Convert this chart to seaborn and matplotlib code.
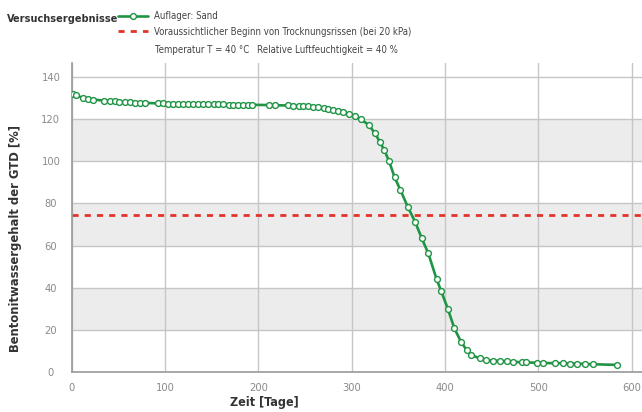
import pandas as pd
import matplotlib
matplotlib.use('Agg')
import matplotlib.pyplot as plt
import seaborn as sns
from matplotlib import font_manager
from matplotlib.lines import Line2D
from matplotlib.legend_handler import HandlerLine2D

tage = [1, 5, 12, 17, 23, 35, 41, 46, 51, 57, 62, 68, 73, 79,
        92, 98, 103, 109, 114, 119, 125, 130, 135, 141, 146, 152, 157, 162,
        168, 173, 178, 184, 189, 193, 211, 218, 232, 237, 243, 248, 253, 259,
        264, 270, 275, 280, 285, 291, 297, 303, 310, 318, 325, 330, 335, 340,
        346, 352, 360, 368, 375, 382, 391, 396, 403, 410, 417, 423, 428, 437,
        444, 451, 459, 466, 473, 482, 487, 498, 505, 518, 526, 534, 541, 550,
        559, 584]
gehalt = [131.8, 131.2, 129.9, 129.4, 129.2, 128.7, 128.5, 128.3, 128.1, 128.0,
          127.9, 127.8, 127.7, 127.6, 127.4, 127.4, 127.3, 127.3, 127.2, 127.2,
          127.1, 127.1, 127.0, 127.0, 127.0, 126.9, 126.9, 126.9, 126.8, 126.8,
          126.8, 126.8, 126.7, 126.7, 126.6, 126.5, 126.4, 126.3, 126.2, 126.1,
          126.0, 125.8, 125.5, 125.1, 124.7, 124.2, 123.8, 123.2, 122.5, 121.6,
          119.8, 117.2, 113.2, 109.2, 105.2, 100.0, 92.3, 86.5, 78.4, 71.2,
          63.5, 56.4, 44.0, 38.3, 30.0, 20.8, 14.5, 10.6, 8.2, 6.6,
          5.8, 5.5, 5.4, 5.2, 5.0, 4.7, 4.7, 4.5, 4.4, 4.3,
          4.3, 4.1, 4.1, 3.9, 3.8, 3.5]
grenzwert = 74.5

x_ticks = [0, 100, 200, 300, 400, 500, 600]
y_ticks = [0, 20, 40, 60, 80, 100, 120, 140]
graue_baender = [(20, 40), (60, 80), (100, 120)]

gruen = '#1f9444'
rot = '#e2332a'

sns.set_style('white')

# schmale Schrift suchen, sonst kleiner schreiben
schmal = None
for f in font_manager.fontManager.ttflist:
    st = str(f.stretch)
    if 'Narrow' in f.name or 'Condensed' in f.name or 'condensed' in st:
        schmal = f
        break
if schmal is not None:
    plt.rcParams['font.family'] = [schmal.name, 'DejaVu Sans']
    plt.rcParams['font.stretch'] = schmal.stretch
    k = 1.0
else:
    plt.rcParams['font.family'] = ['DejaVu Sans']
    k = 0.9


class RechterMarker(HandlerLine2D):
    # Marker nur am rechten Ende der Legendenlinie
    def get_xdata(self, legend, xdescent, ydescent, width, height, fontsize):
        xdata = [-xdescent, -xdescent + width]
        return xdata, [-xdescent + width - 0.15 * fontsize]


df = pd.DataFrame({'Tage': tage, 'Gehalt': gehalt})

fig = plt.figure(figsize=(6.42, 4.12), dpi=100)
ax = fig.add_axes([0.1117, 0.0964, 0.8883, 0.7506])

for unten, oben in graue_baender:
    ax.axhspan(unten, oben, color='#ececec', zorder=0, lw=0)

sns.lineplot(data=df, x='Tage', y='Gehalt', ax=ax, color=gruen, lw=1.9,
             marker='o', markersize=4.2, markerfacecolor='white',
             markeredgecolor=gruen, markeredgewidth=1.0,
             estimator=None, sort=False, legend=False, zorder=3)
ax.axhline(grenzwert, color=rot, lw=2.0, dashes=(2.2, 2.2), zorder=2)

ax.set_xlim(0, 611)
ax.set_ylim(0, 146.5)
ax.set_xticks(x_ticks)
ax.set_yticks(y_ticks)
ax.grid(True, color='#c6c6c6', lw=1.0, zorder=1)
ax.set_axisbelow(True)
for s in ['top', 'right']:
    ax.spines[s].set_visible(False)
for s in ['left', 'bottom']:
    ax.spines[s].set_color('#9a9a9a')
    ax.spines[s].set_linewidth(1.2)
ax.tick_params(axis='both', length=0, labelsize=8 * k, labelcolor='#8a8a8a')
ax.tick_params(axis='x', pad=8)
ax.tick_params(axis='y', pad=15)
for t in ax.get_yticklabels():
    t.set_horizontalalignment('center')

ax.set_xlabel('Zeit [Tage]', fontsize=9 * k, fontweight='bold', color='#333333')
ax.xaxis.set_label_coords(0.337, -0.077)
ax.set_ylabel('Bentonitwassergehalt der GTD [%]', fontsize=9.3 * k,
              fontweight='bold', color='#333333')
ax.yaxis.set_label_coords(-0.087, 0.431)

h_sand = Line2D([], [], color=gruen, lw=1.9, marker='o', markersize=4.2,
                markerfacecolor='white', markeredgecolor=gruen, markeredgewidth=1.0)
h_riss = Line2D([], [], color=rot, lw=2.0, dashes=(2.2, 2.2))
fig.legend([h_sand, h_riss],
           ['Auflager: Sand', 'Voraussichtlicher Beginn von Trocknungsrissen (bei 20 kPa)'],
           handler_map={h_sand: RechterMarker()},
           loc='upper left', bbox_to_anchor=(118 / 642, 1 - 11 / 412),
           frameon=False, fontsize=6.9 * k, handlelength=3.1, handletextpad=0.7,
           labelspacing=0.6, borderpad=0, borderaxespad=0,
           labelcolor='#444444')

fig.text(7 / 642, 1 - 19 / 412, 'Versuchsergebnisse', fontsize=7.8 * k,
         fontweight='bold', color='#333333', va='center')
fig.text(155 / 642, 1 - 50 / 412, 'Temperatur T = 40 °C', fontsize=6.9 * k,
         color='#444444', va='center')
fig.text(257 / 642, 1 - 50 / 412, 'Relative Luftfeuchtigkeit = 40 %', fontsize=6.9 * k,
         color='#444444', va='center')

fig.savefig('out.png', dpi=100)
